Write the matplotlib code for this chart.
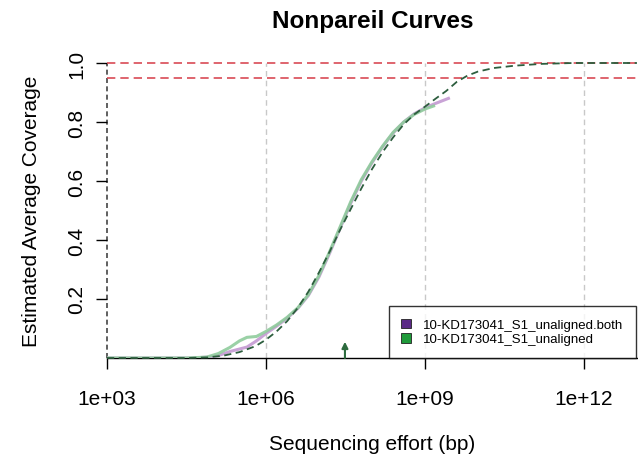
import matplotlib
matplotlib.use("Agg")
import matplotlib.pyplot as plt
from matplotlib.patches import Patch
import numpy as np

plt.rcParams['font.family'] = ['Liberation Sans', 'DejaVu Sans']

# ---- data (log10 sequencing effort, estimated coverage) ----
both_logx = [3.0, 4.6, 4.9, 5.1, 5.32, 5.64, 5.82, 6.0, 6.2, 6.4, 6.6, 6.8, 7.0, 7.2, 7.4,
             7.6, 7.8, 8.0, 8.2, 8.4, 8.6, 8.8, 9.0, 9.2, 9.47]
both_cov = [0.0, 0.0, 0.003, 0.008, 0.022, 0.037, 0.058, 0.083, 0.108, 0.135, 0.168, 0.212,
            0.275, 0.355, 0.44, 0.525, 0.6, 0.662, 0.716, 0.763, 0.8, 0.828, 0.848, 0.863, 0.882]

unal_logx = [3.0, 4.5, 4.88, 5.1, 5.32, 5.5, 5.64, 5.82, 6.0, 6.2, 6.4, 6.6, 6.8, 7.0, 7.2,
             7.4, 7.6, 7.8, 8.0, 8.2, 8.4, 8.6, 8.8, 9.0, 9.19]
unal_cov = [0.0, 0.0, 0.003, 0.015, 0.036, 0.058, 0.07, 0.073, 0.09, 0.112, 0.138, 0.17,
            0.215, 0.28, 0.36, 0.445, 0.53, 0.605, 0.665, 0.718, 0.765, 0.8, 0.826, 0.844, 0.856]

model_logx = [3.0, 4.5, 4.9, 5.2, 5.5, 5.8, 6.0, 6.2, 6.4, 6.6, 6.8, 7.0, 7.2, 7.4, 7.6,
              7.8, 8.0, 8.2, 8.4, 8.6, 8.8, 9.0, 9.2, 9.4, 9.6, 9.8, 10.0, 10.3, 10.7,
              11.2, 11.8, 13.0]
model_cov = [0.0, 0.0, 0.002, 0.008, 0.02, 0.04, 0.062, 0.09, 0.125, 0.17, 0.225, 0.29, 0.36,
             0.435, 0.505, 0.575, 0.64, 0.698, 0.748, 0.792, 0.826, 0.852, 0.879, 0.905, 0.936,
             0.957, 0.971, 0.983, 0.991, 0.997, 1.0, 1.0]

arrow_logx = 7.49
target_levels = [1.0, 0.95]
grid_logx = [6, 9, 12]
xtick_logx = [3, 6, 9, 12]
xtick_labels = ["1e+03", "1e+06", "1e+09", "1e+12"]
ytick_vals = [0.2, 0.4, 0.6, 0.8, 1.0]
ytick_labels = ["0.2", "0.4", "0.6", "0.8", "1.0"]
legend_labels = ["10-KD173041_S1_unaligned.both", "10-KD173041_S1_unaligned"]
legend_colors = ["#5b2a86", "#1f9a3a"]

fig = plt.figure(figsize=(6.38, 4.56), dpi=100)
ax = fig.add_axes([107/638, 97/456, 531/638, 295/456])
ax.set_xscale('log')
ax.set_xlim(1e3, 10**13.02)
ax.set_ylim(0, 1.0)

# grid lines
for g in grid_logx:
    ax.axvline(10**g, color='#c8c8c8', lw=1, ls=(0, (4, 3)), zorder=1)
ax.axvline(1e3, color='#444444', lw=1.2, ls=(0, (3, 2)), zorder=1, clip_on=False)
for lv in target_levels:
    ax.axhline(lv, color='#d94a55', lw=1.2, ls=(0, (5, 3)), zorder=2, clip_on=False)

x_both = np.power(10.0, both_logx)
x_unal = np.power(10.0, unal_logx)
x_model = np.power(10.0, model_logx)

ax.plot(x_both, both_cov, color='#c9a3d6', lw=2.2, zorder=3, solid_capstyle='butt')
ax.plot(x_unal, unal_cov, color='#8fcc9c', lw=2.2, zorder=4, alpha=0.9, solid_capstyle='butt')
ax.plot(x_model, model_cov, color='#2d5e3e', lw=1.3, ls=(0, (4, 2.5)), zorder=5, clip_on=False)

ax.annotate('', xy=(10**arrow_logx, 0.055), xytext=(10**arrow_logx, 0.0),
            arrowprops=dict(arrowstyle='-|>', color='#2d6b3e', lw=1.5,
                            mutation_scale=9, shrinkA=0, shrinkB=0), zorder=6)

for s in ['top', 'right', 'left']:
    ax.spines[s].set_visible(False)
ax.spines['bottom'].set_linewidth(1.0)

ax.set_xticks([10**v for v in xtick_logx])
ax.set_xticklabels(xtick_labels)
ax.xaxis.set_minor_locator(matplotlib.ticker.NullLocator())
ax.set_yticks(ytick_vals)
ax.set_yticklabels(ytick_labels, rotation=90, va='center')
ax.tick_params(axis='x', length=8, width=1, pad=14, labelsize=15)
ax.tick_params(axis='y', length=8, width=1, pad=7, labelsize=15)

fig.text((107 + 638) / 2 / 638, 6 / 456, "Sequencing effort (bp)", fontsize=15,
         ha='center', va='baseline')
ax.set_ylabel("Estimated Average Coverage", fontsize=15, labelpad=19)
ax.set_title("Nonpareil Curves", fontsize=17.5, fontweight='bold', pad=26)

handles = [Patch(facecolor=c, edgecolor='#222222', lw=0.6) for c in legend_colors]
leg = ax.legend(handles, legend_labels, loc='lower right', bbox_to_anchor=(1.0 - 2/531, 0.0),
                fontsize=9.5, frameon=True, fancybox=False, edgecolor='black',
                handlelength=0.75, handleheight=0.75, handletextpad=0.9,
                labelspacing=0.15, borderpad=0.95, borderaxespad=0.0)
leg.get_frame().set_linewidth(1.0)
leg.set_zorder(10)

fig.savefig("out.png", dpi=100)
